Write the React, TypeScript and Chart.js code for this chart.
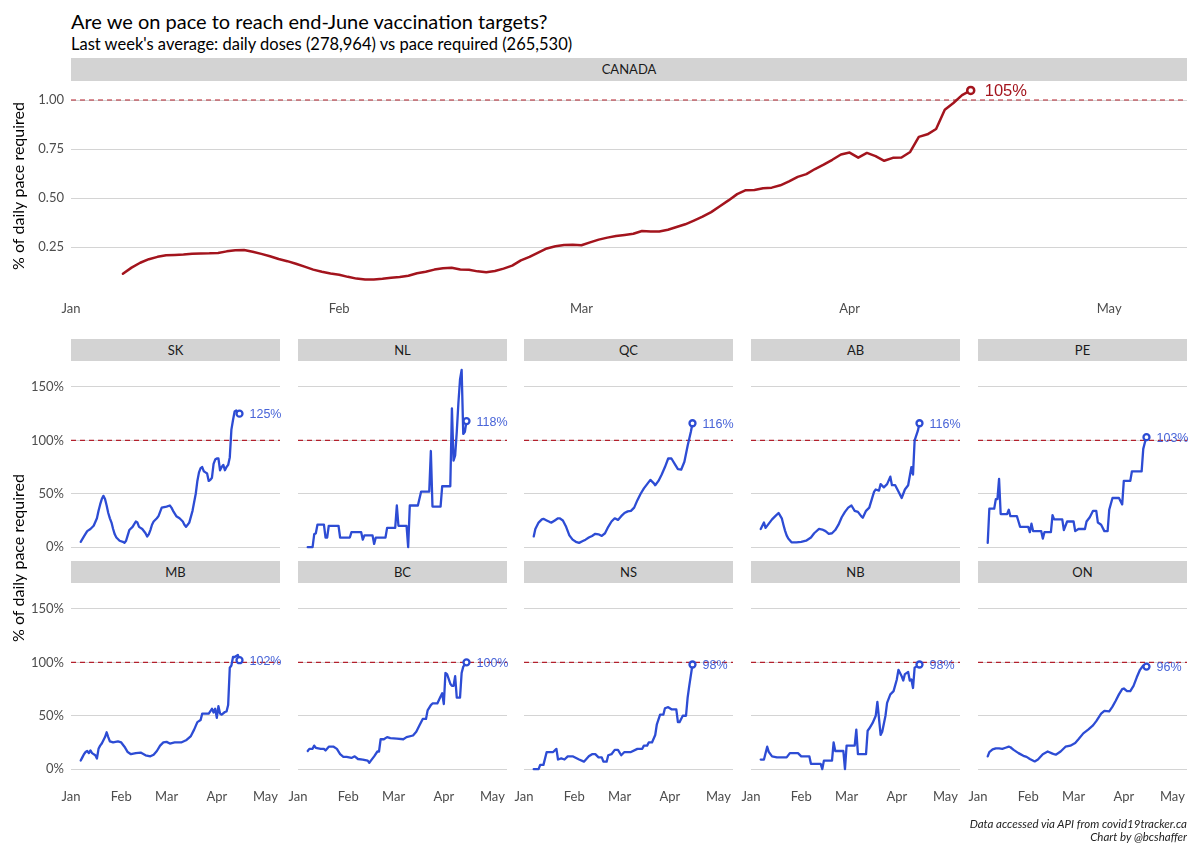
import React, { useEffect, useRef } from "react";
import { Chart, registerables } from "chart.js";
Chart.register(...registerables);

type Pt = [number, number];

const MONTH_TICKS = [0, 31, 59, 90, 120];
const MONTH_LABELS = ["Jan", "Feb", "Mar", "Apr", "May"];
const X_MIN = 0;
const X_MAX = 129;
const TARGET = 1;
const CANADA_Y_TICKS = [0.25, 0.5, 0.75, 1.0];
const PROV_Y_TICKS = [0, 0.5, 1.0, 1.5];

const TITLE = "Are we on pace to reach end-June vaccination targets?";
const SUBTITLE = "Last week's average: daily doses (278,964) vs pace required (265,530)";
const Y_TITLE = "% of daily pace required";
const CAPTION = ["Data accessed via API from covid19tracker.ca", "Chart by @bcshaffer"];

const CANADA: Pt[] = [
  [6, 0.114], [7, 0.145], [8, 0.17], [9, 0.188], [10, 0.2], [11, 0.208], [12, 0.21], [13, 0.212],
  [14, 0.216], [15, 0.217], [16, 0.218], [17, 0.22], [18, 0.228], [19, 0.234], [20, 0.235], [21, 0.226],
  [22, 0.215], [23, 0.203], [24, 0.189], [25, 0.178], [26, 0.165], [27, 0.15], [28, 0.135], [29, 0.124],
  [30, 0.115], [31, 0.109], [32, 0.098], [33, 0.089], [34, 0.084], [35, 0.084], [36, 0.088], [37, 0.093],
  [38, 0.097], [39, 0.104], [40, 0.116], [41, 0.124], [42, 0.135], [43, 0.142], [44, 0.144], [45, 0.136],
  [46, 0.134], [47, 0.126], [48, 0.122], [49, 0.128], [50, 0.14], [51, 0.155], [52, 0.182], [53, 0.2],
  [54, 0.222], [55, 0.243], [56, 0.254], [57, 0.26], [58, 0.262], [59, 0.259], [60, 0.274], [61, 0.288],
  [62, 0.298], [63, 0.306], [64, 0.312], [65, 0.318], [66, 0.332], [67, 0.329], [68, 0.329], [69, 0.338],
  [70, 0.352], [71, 0.366], [72, 0.385], [73, 0.405], [74, 0.428], [75, 0.458], [76, 0.488], [77, 0.52],
  [78, 0.54], [79, 0.541], [80, 0.55], [81, 0.553], [82, 0.565], [83, 0.585], [84, 0.608], [85, 0.622],
  [86, 0.648], [87, 0.67], [88, 0.695], [89, 0.722], [90, 0.732], [91, 0.706], [92, 0.73], [93, 0.714],
  [94, 0.69], [95, 0.705], [96, 0.707], [97, 0.735], [98, 0.812], [99, 0.825], [100, 0.852], [101, 0.95],
  [102, 0.985], [103, 1.025], [104, 1.049],
];

const SK: Pt[] = [
  [6, 0.05], [8, 0.1], [10, 0.15], [12, 0.17], [14, 0.2], [16, 0.27], [17, 0.34], [18, 0.4], [19, 0.45],
  [20, 0.48], [21, 0.45], [22, 0.39], [23, 0.32], [24, 0.27], [25, 0.23], [26, 0.17], [27, 0.12], [28, 0.09],
  [30, 0.06], [32, 0.05], [33, 0.04], [34, 0.06], [35, 0.11], [36, 0.16], [38, 0.19], [40, 0.24], [41, 0.23],
  [42, 0.19], [44, 0.17], [46, 0.13], [47, 0.1], [48, 0.12], [49, 0.16], [50, 0.21], [51, 0.24], [53, 0.27],
  [54, 0.29], [55, 0.33], [56, 0.37], [59, 0.38], [61, 0.39], [62, 0.37], [63, 0.34], [65, 0.29], [67, 0.27],
  [69, 0.24], [70, 0.21], [71, 0.19], [72, 0.21], [73, 0.23], [75, 0.34], [76, 0.42], [77, 0.5], [78, 0.62],
  [79, 0.7], [80, 0.74], [81, 0.75], [82, 0.71], [83, 0.7], [84, 0.69], [85, 0.62], [86, 0.63], [87, 0.65],
  [88, 0.78], [89, 0.82], [90, 0.83], [91, 0.83], [92, 0.72], [93, 0.75], [94, 0.77], [95, 0.72], [96, 0.75],
  [97, 0.77], [98, 0.84], [99, 1.1], [100, 1.19], [101, 1.27], [102, 1.28], [103, 1.26], [104, 1.25],
];

const NL: Pt[] = [
  [6, 0], [9, 0], [10, 0.12], [11, 0.13], [12, 0.21], [16, 0.21], [17, 0.09], [18, 0.09], [19, 0.2],
  [25, 0.2], [26, 0.09], [32, 0.09], [33, 0.14], [39, 0.14], [40, 0.07], [41, 0.11], [46, 0.11], [47, 0.03],
  [48, 0.09], [54, 0.09], [55, 0.18], [60, 0.18], [61, 0.39], [62, 0.2], [67, 0.2], [68, 0], [69, 0.39],
  [74, 0.39], [76, 0.52], [81, 0.52], [82, 0.9], [83, 0.38], [88, 0.38], [89, 0.57], [94, 0.57], [95, 1.3],
  [96, 0.81], [97, 0.86], [98, 1.08], [99, 1.35], [100, 1.57], [101, 1.66], [102, 1.06], [103, 1.08], [104, 1.18],
];

const QC: Pt[] = [
  [6, 0.1], [7, 0.17], [9, 0.23], [11, 0.26], [12, 0.265], [14, 0.25], [16, 0.235], [17, 0.23], [19, 0.25],
  [21, 0.27], [22, 0.27], [24, 0.25], [26, 0.19], [28, 0.11], [30, 0.07], [32, 0.05], [34, 0.04], [36, 0.055],
  [38, 0.07], [40, 0.09], [42, 0.105], [44, 0.125], [46, 0.12], [48, 0.105], [50, 0.13], [52, 0.19], [54, 0.24],
  [56, 0.27], [58, 0.255], [60, 0.29], [62, 0.32], [64, 0.335], [66, 0.34], [68, 0.37], [70, 0.44], [72, 0.5],
  [74, 0.55], [76, 0.59], [78, 0.63], [80, 0.6], [81, 0.58], [83, 0.62], [85, 0.68], [87, 0.75], [89, 0.83],
  [91, 0.83], [93, 0.78], [95, 0.73], [97, 0.725], [99, 0.8], [101, 0.95], [103, 1.08], [104, 1.16],
];

const AB: Pt[] = [
  [6, 0.17], [8, 0.23], [9, 0.18], [11, 0.22], [13, 0.26], [15, 0.29], [17, 0.32], [19, 0.27], [20, 0.21],
  [21, 0.155], [22, 0.11], [23, 0.08], [25, 0.045], [28, 0.045], [31, 0.05], [34, 0.06], [37, 0.09], [39, 0.13],
  [42, 0.17], [44, 0.165], [46, 0.15], [48, 0.125], [50, 0.13], [52, 0.16], [54, 0.21], [56, 0.28], [58, 0.33],
  [60, 0.37], [62, 0.39], [64, 0.34], [66, 0.33], [68, 0.29], [69, 0.275], [71, 0.34], [73, 0.37], [75, 0.47],
  [76, 0.52], [77, 0.54], [79, 0.53], [80, 0.59], [82, 0.56], [84, 0.59], [86, 0.66], [87, 0.58], [89, 0.58],
  [91, 0.52], [93, 0.46], [95, 0.54], [97, 0.58], [99, 0.75], [100, 0.68], [101, 1.0], [103, 1.09], [104, 1.16],
];

const PE: Pt[] = [
  [6, 0.04], [7, 0.36], [10, 0.36], [11, 0.45], [12, 0.45], [13, 0.64], [14, 0.31], [18, 0.31], [19, 0.35],
  [20, 0.29], [24, 0.29], [25, 0.24], [26, 0.19], [31, 0.19], [32, 0.14], [33, 0.22], [34, 0.15], [39, 0.15],
  [40, 0.08], [41, 0.14], [45, 0.14], [46, 0.3], [47, 0.26], [52, 0.26], [53, 0.16], [55, 0.24], [59, 0.24],
  [60, 0.15], [62, 0.17], [66, 0.17], [67, 0.24], [69, 0.28], [71, 0.34], [73, 0.34], [74, 0.23], [76, 0.21],
  [78, 0.15], [80, 0.15], [81, 0.35], [83, 0.46], [87, 0.46], [89, 0.4], [90, 0.62], [94, 0.62], [95, 0.71],
  [101, 0.71], [102, 0.92], [103, 0.98], [104, 1.03],
];

const MB: Pt[] = [
  [6, 0.08], [7, 0.11], [8, 0.14], [9, 0.16], [10, 0.17], [11, 0.15], [12, 0.175], [13, 0.15], [15, 0.13],
  [16, 0.1], [17, 0.19], [18, 0.22], [19, 0.24], [20, 0.27], [21, 0.3], [22, 0.345], [23, 0.3], [24, 0.26],
  [26, 0.25], [29, 0.26], [31, 0.25], [33, 0.21], [35, 0.16], [37, 0.14], [40, 0.15], [43, 0.155], [46, 0.13],
  [49, 0.12], [51, 0.135], [53, 0.17], [55, 0.22], [57, 0.25], [59, 0.255], [61, 0.24], [64, 0.25], [68, 0.25],
  [71, 0.27], [74, 0.31], [76, 0.37], [78, 0.44], [80, 0.46], [81, 0.52], [85, 0.52], [87, 0.565], [88, 0.53],
  [89, 0.565], [90, 0.48], [91, 0.59], [92, 0.52], [93, 0.51], [95, 0.535], [96, 0.54], [97, 0.6], [98, 0.95],
  [99, 0.97], [100, 1.05], [101, 1.05], [102, 1.06], [103, 1.07], [104, 1.02],
];

const BC: Pt[] = [
  [6, 0.17], [7, 0.19], [9, 0.19], [10, 0.22], [11, 0.2], [14, 0.19], [16, 0.19], [17, 0.175], [19, 0.21],
  [22, 0.21], [24, 0.19], [26, 0.14], [28, 0.115], [30, 0.115], [33, 0.105], [35, 0.12], [37, 0.095], [40, 0.09],
  [43, 0.08], [44, 0.06], [45, 0.08], [47, 0.12], [49, 0.165], [50, 0.165], [51, 0.28], [53, 0.28], [55, 0.3],
  [57, 0.29], [61, 0.285], [65, 0.28], [67, 0.3], [71, 0.315], [73, 0.35], [75, 0.41], [77, 0.47], [79, 0.47],
  [80, 0.55], [82, 0.6], [83, 0.615], [86, 0.615], [88, 0.68], [89, 0.71], [90, 0.61], [91, 0.9], [92, 0.89],
  [94, 0.8], [95, 0.78], [96, 0.78], [97, 0.87], [98, 0.67], [100, 0.67], [101, 0.9], [102, 0.96], [103, 0.98],
  [104, 1.0],
];

const NS: Pt[] = [
  [6, 0], [9, 0], [10, 0.04], [12, 0.04], [14, 0.16], [18, 0.16], [20, 0.19], [21, 0.09], [23, 0.1], [25, 0.09],
  [27, 0.12], [30, 0.12], [34, 0.09], [37, 0.07], [40, 0.12], [42, 0.14], [44, 0.14], [46, 0.11], [48, 0.11],
  [49, 0.07], [51, 0.07], [52, 0.13], [54, 0.14], [56, 0.18], [58, 0.18], [60, 0.13], [62, 0.16], [66, 0.16],
  [70, 0.19], [73, 0.19], [74, 0.22], [76, 0.22], [77, 0.25], [79, 0.25], [81, 0.32], [82, 0.42], [84, 0.51],
  [86, 0.51], [87, 0.57], [89, 0.58], [91, 0.56], [94, 0.56], [95, 0.44], [96, 0.44], [98, 0.5], [100, 0.5],
  [101, 0.67], [102, 0.78], [103, 0.88], [104, 0.98],
];

const NB: Pt[] = [
  [6, 0.09], [8, 0.09], [10, 0.21], [11, 0.16], [13, 0.12], [16, 0.11], [22, 0.11], [24, 0.15], [29, 0.15],
  [31, 0.12], [36, 0.12], [37, 0.05], [43, 0.05], [44, 0], [45, 0.08], [50, 0.08], [51, 0.25], [52, 0.17],
  [57, 0.17], [58, 0], [59, 0.22], [64, 0.22], [65, 0.37], [66, 0.14], [71, 0.14], [72, 0.36], [73, 0.38],
  [75, 0.43], [77, 0.5], [78, 0.63], [80, 0.32], [81, 0.35], [83, 0.5], [84, 0.62], [86, 0.7], [88, 0.73],
  [90, 0.84], [91, 0.93], [93, 0.87], [94, 0.83], [95, 0.89], [97, 0.91], [98, 0.83], [99, 0.84], [100, 0.76],
  [101, 0.95], [102, 0.96], [103, 0.97], [104, 0.98],
];

const ON: Pt[] = [
  [6, 0.12], [7, 0.16], [9, 0.185], [11, 0.195], [13, 0.195], [15, 0.19], [17, 0.2], [19, 0.21], [20, 0.205],
  [22, 0.18], [25, 0.15], [28, 0.125], [30, 0.115], [32, 0.095], [35, 0.072], [37, 0.09], [40, 0.14], [43, 0.165],
  [46, 0.145], [48, 0.135], [51, 0.165], [54, 0.21], [57, 0.22], [60, 0.245], [62, 0.28], [65, 0.335], [68, 0.37],
  [71, 0.41], [73, 0.45], [76, 0.52], [78, 0.545], [81, 0.54], [83, 0.585], [85, 0.64], [87, 0.7], [89, 0.75],
  [90, 0.755], [92, 0.73], [94, 0.73], [96, 0.78], [98, 0.86], [100, 0.93], [102, 0.97], [103, 0.97], [104, 0.96],
];

const ROW1 = [
  { name: "SK", data: SK }, { name: "NL", data: NL }, { name: "QC", data: QC },
  { name: "AB", data: AB }, { name: "PE", data: PE },
];
const ROW2 = [
  { name: "MB", data: MB }, { name: "BC", data: BC }, { name: "NS", data: NS },
  { name: "NB", data: NB }, { name: "ON", data: ON },
];

const RED = "#a3141d";
const BLUE = "#2d4cd4";
const BLUE_LABEL = "#4864d8";
const DASH = "#b3202c";
const GRID = "#d4d4d4";
const TICK = "#4d4d4d";
const STRIP = "#d3d3d3";

const overlayPlugin = {
  id: "overlay",
  beforeDatasetsDraw(chart: any, _a: any, opts: any) {
    const { ctx, chartArea: a, scales } = chart;
    const py = scales.y.getPixelForValue(TARGET);
    ctx.save();
    ctx.strokeStyle = opts.dashColor;
    ctx.lineWidth = opts.dashWidth;
    ctx.setLineDash(opts.dash);
    ctx.beginPath();
    ctx.moveTo(a.left, py);
    ctx.lineTo(a.right, py);
    ctx.stroke();
    ctx.restore();
  },
  afterDatasetsDraw(chart: any, _a: any, opts: any) {
    const { ctx } = chart;
    const meta = chart.getDatasetMeta(0);
    const el = meta.data[meta.data.length - 1];
    const d = chart.data.datasets[0].data;
    const v = d[d.length - 1].y;
    ctx.save();
    ctx.font = `${opts.labelSize}px "Liberation Sans", Arial, sans-serif`;
    ctx.fillStyle = opts.labelColor;
    ctx.textAlign = "left";
    ctx.textBaseline = "middle";
    ctx.fillText(Math.round(v * 100) + "%", el.x + opts.labelOffset, el.y + 1);
    ctx.restore();
  },
};

const yTitlePlugin = {
  id: "ytitle",
  afterDraw(chart: any, _a: any, opts: any) {
    if (!opts || !opts.text) return;
    const { ctx } = chart;
    ctx.save();
    ctx.translate(opts.x, opts.y);
    ctx.rotate(-Math.PI / 2);
    ctx.font = `16px Lato`;
    ctx.fillStyle = "#000";
    ctx.textAlign = "center";
    ctx.textBaseline = "middle";
    ctx.fillText(opts.text, 0, 0);
    ctx.restore();
  },
};

type PanelProps = {
  series: Pt[];
  color: string;
  labelColor: string;
  left: number;
  top: number;
  width: number;
  height: number;
  padL: number;
  padR: number;
  padT: number;
  padB: number;
  yMin: number;
  yMax: number;
  yTicks: number[];
  yFmt: (v: number) => string;
  showY: boolean;
  showX: boolean;
  lineWidth: number;
  pointRadius: number;
  pointBorder: number;
  labelSize: number;
  labelOffset: number;
  xPad: number;
  yTitle?: { text: string; x: number; y: number };
};

function Panel(p: PanelProps) {
  const ref = useRef<HTMLCanvasElement>(null);
  const W = p.width + p.padL + p.padR;
  const H = p.height + p.padT + p.padB;
  useEffect(() => {
    const n = p.series.length;
    const font = { family: "Lato", size: 13 };
    const cx = p.left - p.padL;
    const cy = p.top - p.padT;
    const chart = new Chart(ref.current as HTMLCanvasElement, {
      type: "line",
      data: {
        datasets: [
          {
            data: p.series.map(([x, y]) => ({ x, y })),
            borderColor: p.color,
            borderWidth: p.lineWidth,
            tension: 0,
            borderJoinStyle: "round",
            borderCapStyle: "round",
            pointRadius: (c: any) => (c.dataIndex === n - 1 ? p.pointRadius : 0),
            pointHoverRadius: 0,
            pointBorderColor: p.color,
            pointBackgroundColor: "#ffffff",
            pointBorderWidth: p.pointBorder,
            clip: false as any,
          } as any,
        ],
      },
      options: {
        responsive: false,
        animation: false,
        events: [],
        layout: { padding: { left: 0, right: p.padR, top: p.padT, bottom: 0 } },
        plugins: {
          legend: { display: false },
          tooltip: { enabled: false },
          overlay: {
            dashColor: DASH,
            dashWidth: 1.2,
            dash: [5, 4],
            labelColor: p.labelColor,
            labelSize: p.labelSize,
            labelOffset: p.labelOffset,
          },
          ytitle: p.yTitle ? { text: p.yTitle.text, x: p.yTitle.x - cx, y: p.yTitle.y - cy } : { text: "" },
        } as any,
        scales: {
          x: {
            type: "linear",
            min: X_MIN,
            max: X_MAX,
            grid: { display: false },
            border: { display: false },
            ticks: {
              display: p.showX,
              padding: p.xPad,
              font,
              color: TICK,
              autoSkip: false,
              maxRotation: 0,
              callback: (v: any) => {
                const i = MONTH_TICKS.indexOf(Number(v));
                return i >= 0 ? MONTH_LABELS[i] : "";
              },
            },
            afterBuildTicks: (s: any) => {
              s.ticks = MONTH_TICKS.map((v) => ({ value: v }));
            },
            afterFit: (s: any) => {
              s.height = p.padB;
            },
          },
          y: {
            type: "linear",
            min: p.yMin,
            max: p.yMax,
            grid: { color: GRID, lineWidth: 1, drawTicks: false },
            border: { display: false },
            ticks: {
              display: p.showY,
              padding: 7,
              font,
              color: TICK,
              callback: (v: any) => p.yFmt(Number(v)),
            },
            afterBuildTicks: (s: any) => {
              s.ticks = p.yTicks.map((v) => ({ value: v }));
            },
            afterFit: (s: any) => {
              s.width = p.padL;
            },
          },
        },
      },
      plugins: [overlayPlugin as any, yTitlePlugin as any],
    });
    return () => chart.destroy();
  }, []);
  return (
    <canvas
      ref={ref}
      width={W}
      height={H}
      style={{ position: "absolute", left: p.left - p.padL, top: p.top - p.padT, width: W, height: H }}
    />
  );
}

const stripStyle = (left: number, top: number, width: number, height: number): React.CSSProperties => ({
  position: "absolute",
  left,
  top,
  width,
  height,
  background: STRIP,
  color: "#1a1a1a",
  fontFamily: "Lato",
  fontSize: 13,
  lineHeight: `${height}px`,
  textAlign: "center",
});

export default function App() {
  const COL_X = [71, 297.7, 524.4, 751, 977.7].map((v) => Math.round(v));
  const PW = 209;
  const PH = 195;
  const ROW_TOP = [361, 583];
  const pct = (v: number) => `${Math.round(v * 100)}%`;

  const rows = [ROW1, ROW2];
  return (
    <div style={{ position: "fixed", left: 0, top: 0, width: 1200, height: 857, background: "#fff", overflow: "hidden" }}>
      <div style={{ position: "absolute", left: 71, top: 9, fontFamily: "Lato", fontSize: 20, color: "#000", whiteSpace: "nowrap", lineHeight: "24px" }}>
        {TITLE}
      </div>
      <div style={{ position: "absolute", left: 71, top: 34, fontFamily: "Lato", fontSize: 16.5, color: "#000", whiteSpace: "nowrap", lineHeight: "20px" }}>
        {SUBTITLE}
      </div>

      <div style={stripStyle(71, 58, 1116, 23)}>CANADA</div>
      {rows.map((row, ri) =>
        row.map((prov, ci) => (
          <div key={"s" + prov.name} style={stripStyle(COL_X[ci], ROW_TOP[ri] - 22, PW, 22)}>{prov.name}</div>
        ))
      )}

      <Panel
        series={CANADA}
        color={RED}
        labelColor={RED}
        left={71}
        top={81}
        width={1116}
        height={208}
        padL={71}
        padR={13}
        padT={16}
        padB={32}
        xPad={4}
        yMin={0.036}
        yMax={1.097}
        yTicks={CANADA_Y_TICKS}
        yFmt={(v) => v.toFixed(2)}
        showY={true}
        showX={true}
        lineWidth={2.5}
        pointRadius={3.5}
        pointBorder={2.5}
        labelSize={16.5}
        labelOffset={14}
        yTitle={{ text: Y_TITLE, x: 19, y: 186 }}
      />

      {rows.map((row, ri) =>
        row.map((prov, ci) => {
          const hasTitle = ci === 0 && ri === 1;
          return (
            <Panel
              key={"p" + prov.name}
              series={prov.data}
              color={BLUE}
              labelColor={BLUE_LABEL}
              left={COL_X[ci]}
              top={ROW_TOP[ri]}
              width={PW}
              height={PH}
              padL={ci === 0 ? 71 : 24}
              padR={14}
              padT={hasTitle ? 140 : 16}
              padB={32}
              xPad={3}
              yMin={-0.083}
              yMax={1.743}
              yTicks={PROV_Y_TICKS}
              yFmt={pct}
              showY={ci === 0}
              showX={ri === 1}
              lineWidth={2.3}
              pointRadius={3}
              pointBorder={2.3}
              labelSize={12.5}
              labelOffset={10}
              yTitle={hasTitle ? { text: Y_TITLE, x: 19, y: 558 } : undefined}
            />
          );
        })
      )}

      <div style={{ position: "absolute", right: 13, top: 817, textAlign: "right", fontFamily: "Lato", fontStyle: "italic", fontWeight: 400, fontSize: 11.5, lineHeight: "13px", color: "#222" }}>
        <div>{CAPTION[0]}</div>
        <div>{CAPTION[1]}</div>
      </div>
    </div>
  );
}
